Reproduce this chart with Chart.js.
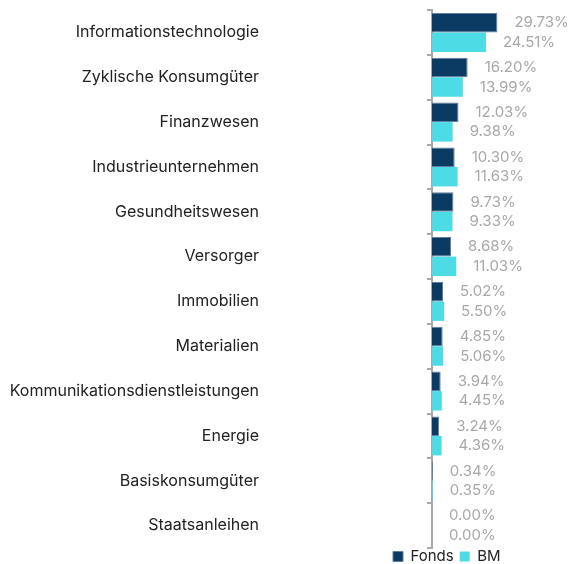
<!DOCTYPE html>
<html>
<head>
<meta charset="utf-8">
<script src="https://cdn.jsdelivr.net/npm/chart.js@4"></script>
<style>
  html, body { margin: 0; padding: 0; background: #fff; }
  #wrap { width: 569px; height: 564px; position: relative; }
</style>
</head>
<body>
<div id="wrap"><canvas id="myChart"></canvas></div>
<script>
const categories = ['Informationstechnologie', 'Zyklische Konsumgüter', 'Finanzwesen', 'Industrieunternehmen', 'Gesundheitswesen', 'Versorger', 'Immobilien', 'Materialien', 'Kommunikationsdienstleistungen', 'Energie', 'Basiskonsumgüter', 'Staatsanleihen'];
const fonds = [29.73, 16.20, 12.03, 10.30, 9.73, 8.68, 5.02, 4.85, 3.94, 3.24, 0.34, 0.00];
const bm = [24.51, 13.99, 9.38, 11.63, 9.33, 11.03, 5.50, 5.06, 4.45, 4.36, 0.35, 0.00];

const FONT = 'Inter, "Noto Sans", sans-serif';

// Werte rechts neben den Balken schreiben
const valueLabels = {
  id: 'valueLabels',
  afterDatasetsDraw(chart) {
    const ctx = chart.ctx;
    ctx.save();
    ctx.font = '15px ' + FONT;
    ctx.fillStyle = '#a8a8a8';
    ctx.textAlign = 'left';
    ctx.textBaseline = 'middle';
    chart.data.datasets.forEach((ds, i) => {
      chart.getDatasetMeta(i).data.forEach((bar, j) => {
        ctx.fillText(ds.data[j].toFixed(2) + '%', bar.x + 17, bar.y);
      });
    });
    ctx.restore();
  }
};

// Legende unter die Achse schieben
const moveLegend = {
  id: 'moveLegend',
  afterLayout(chart) {
    const lg = chart.legend;
    const w = lg.right - lg.left;
    lg.left = 387;
    lg.right = 387 + w;
    lg.top = 543;
    lg.bottom = 564;
  }
};

const ctx = document.getElementById('myChart').getContext('2d');

const myChart = new Chart(ctx, {
  type: 'bar',
  data: {
    labels: categories,
    datasets: [{
      label: 'Fonds',
      data: fonds,
      backgroundColor: '#0b3b63',
      borderColor: '#5d7fa2',
      borderWidth: 1,
      categoryPercentage: 0.87,
      barPercentage: 1
    }, {
      label: 'BM',
      data: bm,
      backgroundColor: '#4ddce5',
      categoryPercentage: 0.87,
      barPercentage: 1
    }]
  },
  options: {
    indexAxis: 'y',
    responsive: true,
    maintainAspectRatio: false,
    animation: false,
    layout: { padding: { top: 10, right: 5, bottom: 0, left: 0 } },
    scales: {
      x: {
        display: false,
        min: 0,
        max: 60
      },
      y: {
        afterFit(scale) {
          scale.width = 432;
          scale.paddingTop = 0;
          scale.paddingBottom = 0;
        },
        border: { color: '#aaaaaa', width: 2 },
        grid: {
          display: true,
          drawOnChartArea: false,
          offset: true,
          tickLength: 5,
          color: '#aaaaaa',
          lineWidth: 2
        },
        ticks: {
          padding: 168,
          color: '#222222',
          font: { family: FONT, size: 16 }
        }
      }
    },
    plugins: {
      legend: {
        position: 'bottom',
        align: 'start',
        labels: {
          boxWidth: 10,
          boxHeight: 10,
          padding: 6,
          color: '#222222',
          font: { family: FONT, size: 15 }
        }
      },
      tooltip: { enabled: false }
    }
  },
  plugins: [valueLabels, moveLegend]
});

// Legende nur 16px hoch machen, damit die Achse bis fast nach unten geht
const legendFit = myChart.legend.fit;
myChart.legend.fit = function () {
  legendFit.call(this);
  this.height = 16;
};
myChart.update();
</script>
</body>
</html>
